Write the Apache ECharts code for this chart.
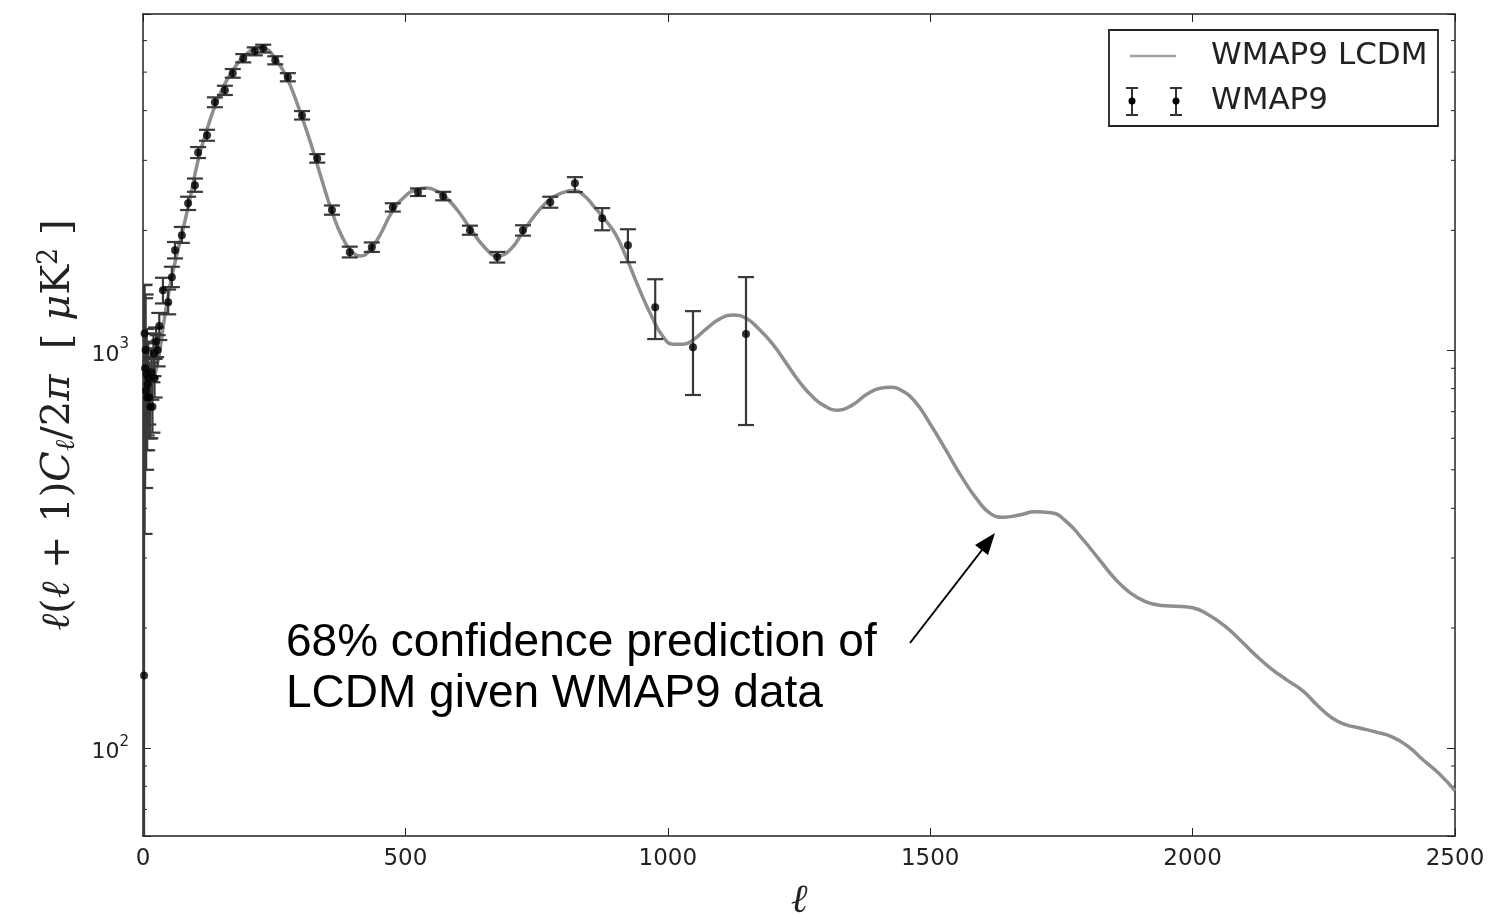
<!DOCTYPE html>
<html>
<head>
<meta charset="utf-8">
<script src="https://cdn.jsdelivr.net/npm/echarts@6/dist/echarts.min.js"></script>
<style>html,body{margin:0;padding:0;background:#fff;}#c{width:1492px;height:915px;}</style>
</head>
<body>
<div id="c"></div>
<script>
// ---- Theory curve: WMAP9 LCDM (multipole, D_l in muK^2) ----
const theoryL = [2,5,10,15,20,30,40,50,60,75,90,105,120,140,160,180,200,220,235,250,265,280,300,320,340,360,380,400,415,430,450,475,500,520,540,560,580,600,625,650,675,700,725,750,775,800,820,840,860,880,900,920,945,970,990,1010,1030,1050,1075,1100,1125,1150,1175,1200,1225,1250,1275,1300,1325,1350,1380,1405,1425,1445,1470,1500,1530,1560,1590,1615,1640,1670,1700,1730,1760,1790,1820,1850,1880,1910,1940,1970,2000,2030,2060,2090,2120,2150,2180,2210,2240,2265,2290,2320,2350,2380,2410,2440,2470,2500];
const theoryD = [1050,900,830,815,840,960,1180,1420,1640,1980,2420,3000,3520,4200,4780,5250,5600,5760,5720,5460,5100,4650,3950,3300,2700,2230,1920,1760,1725,1770,1930,2230,2440,2530,2555,2510,2400,2240,2010,1820,1725,1790,1990,2210,2390,2490,2520,2450,2290,2130,1960,1720,1430,1210,1085,1035,1035,1065,1135,1200,1225,1200,1125,1035,930,835,765,722,706,725,775,802,806,792,745,652,560,480,420,388,380,385,392,390,370,335,300,268,246,233,228,227,225,216,203,187,171,158,148,139,127,119,114.5,112,109.5,106.5,101,93,86,78];

// ---- WMAP9 data points ----
const dataL  = [2,3,4,5,6,7,8,9,10,12,14,16,18,20,22,25,28,31,38,48,55,61,74,86,99,105,122,137,156,171,191,213,229,252,276,303,332,360,394,436,476,524,572,623,675,724,776,823,875,924,976,1048,1149];
const dataD  = [152,1100,900,1000,790,870,760,820,850,760,720,880,720,980,850,1050,1000,1150,1415,1320,1525,1783,1945,2340,2597,3141,3470,4199,4500,4966,5420,5640,5730,5356,4854,3891,3033,2249,1763,1815,2286,2495,2438,2001,1713,2001,2355,2627,2145,1835,1282,1017,1097];
const dataLo = [50,345,450,560,500,610,560,600,650,600,600,750,620,860,760,960,910,1060,1310,1230,1440,1700,1860,2250,2500,3040,3360,4080,4380,4840,5290,5510,5600,5230,4740,3800,2960,2190,1710,1765,2230,2440,2380,1950,1660,1940,2280,2496,2001,1663,1066,771,648];
const dataHi = [1457,1460,1350,1380,1100,1130,960,1040,1050,930,850,1010,830,1100,950,1140,1090,1240,1520,1420,1620,1870,2040,2430,2700,3240,3580,4320,4620,5090,5550,5770,5860,5480,4970,3990,3110,2310,1820,1865,2340,2550,2500,2055,1765,2060,2430,2722,2275,2013,1507,1253,1526];

// ---- Axis ticks ----
const xTicks = [0,500,1000,1500,2000,2500];
const yMinorTicks = [70,80,90,200,300,400,500,600,700,800,900,2000,3000,4000,5000,6000];

const theory = theoryL.map((l,i)=>[l, theoryD[i]]);
const points = dataL.map((l,i)=>[l, dataD[i]]);
const bars = dataL.map((l,i)=>[l, dataLo[i], dataHi[i]]);

const chart = echarts.init(document.getElementById('c'), null, {renderer:'canvas'});
const axisCol = '#222';
const serif = '"DejaVu Serif", "Liberation Serif", serif';
const option = {
  animation: false,
  backgroundColor: '#fff',
  grid: {left:143, top:14, right:37, bottom:79, containLabel:false, outerBoundsMode:'none'},
  xAxis: [{
    type:'value', min:0, max:2500, interval:500, position:'bottom',
    axisLine:{show:true, onZero:false, lineStyle:{color:axisCol, width:1.5}},
    axisTick:{show:true, inside:true, length:8, lineStyle:{color:axisCol, width:1}},
    axisLabel:{fontFamily:'DejaVu Sans', fontSize:23, color:'#222', margin:12,
      formatter: v => xTicks.indexOf(v) >= 0 ? String(v) : ''},
    splitLine:{show:false},
    name:'ℓ', nameLocation:'middle', nameGap:46,
    nameTextStyle:{fontFamily:serif, fontStyle:'italic', fontSize:40, color:'#222'}
  },{
    type:'value', min:0, max:2500, interval:500, position:'top',
    axisLine:{show:true, onZero:false, lineStyle:{color:axisCol, width:1.5}},
    axisTick:{show:true, inside:true, length:8, lineStyle:{color:axisCol, width:1}},
    axisLabel:{show:false}, splitLine:{show:false}
  }],
  yAxis: [{
    type:'log', logBase:10, min:60, max:7000, position:'left',
    axisLine:{show:true, onZero:false, lineStyle:{color:axisCol, width:1.5}},
    axisTick:{show:true, inside:true, length:8, lineStyle:{color:axisCol, width:1}},
    axisLabel:{fontFamily:'DejaVu Sans', fontSize:22, color:'#222', margin:14,
      formatter: v => { const e = Math.log10(v); const r = Math.round(e);
        return Math.abs(e-r) < 1e-6 ? '{b|10}{s|' + r + '}' : ''; },
      rich:{
        b:{fontFamily:'DejaVu Sans', fontSize:22, color:'#222', padding:[10,0,0,0]},
        s:{fontFamily:'DejaVu Sans', fontSize:15, color:'#222', padding:[0,0,12,0]}
      }},
    splitLine:{show:false},
    name:'{i|ℓ}{r|(}{i|ℓ}{r| + 1)}{i|C}{sub|ℓ}{r|/2}{i|π}{r|  [ }{i|μ}{r|K}{sup|2}{r| ]}',
    nameLocation:'middle', nameGap:54,
    nameTextStyle:{
      fontFamily:serif, fontSize:40, color:'#222',
      rich:{
        i:{fontFamily:serif, fontStyle:'italic', fontSize:40, color:'#222'},
        r:{fontFamily:serif, fontSize:40, color:'#222'},
        sub:{fontFamily:serif, fontStyle:'italic', fontSize:27, color:'#222', padding:[16,0,0,0]},
        sup:{fontFamily:serif, fontSize:27, color:'#222', padding:[0,0,18,0]}
      }
    }
  },{
    type:'log', logBase:10, min:60, max:7000, position:'right',
    axisLine:{show:true, onZero:false, lineStyle:{color:axisCol, width:1.5}},
    axisTick:{show:true, inside:true, length:8, lineStyle:{color:axisCol, width:1}},
    axisLabel:{show:false}, splitLine:{show:false}
  }],
  series: [
    {
      type:'custom', name:'minorTicks', xAxisIndex:0, yAxisIndex:0, silent:true,
      data: yMinorTicks.map(v=>[0, v]),
      renderItem: (params, api) => {
        const cs = params.coordSys;
        const y = api.coord([0, api.value(1)])[1];
        return {type:'group', children:[
          {type:'line', shape:{x1:cs.x, y1:y, x2:cs.x+4, y2:y}, style:{stroke:axisCol, lineWidth:1}},
          {type:'line', shape:{x1:cs.x+cs.width-4, y1:y, x2:cs.x+cs.width, y2:y}, style:{stroke:axisCol, lineWidth:1}}
        ]};
      },
      z: 1
    },
    {
      type:'line', name:'WMAP9 LCDM', data: theory, smooth:0.5, showSymbol:false,
      lineStyle:{color:'#8e8e8e', width:3.5}, z:2
    },
    {
      type:'custom', name:'WMAP9 errors', data: bars, clip:true,
      encode:{x:0, y:[1,2]},
      renderItem: (params, api) => {
        const l = api.value(0);
        const lo = api.coord([l, api.value(1)]);
        const hi = api.coord([l, api.value(2)]);
        const w = 8;
        const st = {stroke:'#3a3a3a', lineWidth:2.2};
        return {type:'group', children:[
          {type:'line', shape:{x1:lo[0], y1:lo[1], x2:hi[0], y2:hi[1]}, style:st},
          {type:'line', shape:{x1:lo[0]-w, y1:lo[1], x2:lo[0]+w, y2:lo[1]}, style:st},
          {type:'line', shape:{x1:hi[0]-w, y1:hi[1], x2:hi[0]+w, y2:hi[1]}, style:st}
        ]};
      },
      z:3
    },
    {
      type:'scatter', name:'WMAP9', data: points, symbol:'circle', symbolSize:8,
      itemStyle:{color:'#000'}, z:4
    }
  ],
  graphic: [
    // legend box
    {type:'rect', shape:{x:1109, y:30, width:329, height:96}, style:{fill:'#fff', stroke:'#222', lineWidth:1.8}, z:10},
    {type:'line', shape:{x1:1130, y1:56, x2:1176, y2:56}, style:{stroke:'#a0a0a0', lineWidth:2.5}, z:11},
    {type:'text', x:1211, y:56, style:{text:'WMAP9 LCDM', font:'31px "DejaVu Sans"', fill:'#222', textVerticalAlign:'middle'}, z:11},
    {type:'line', shape:{x1:1132, y1:88, x2:1132, y2:115}, style:{stroke:'#333', lineWidth:2}, z:11},
    {type:'line', shape:{x1:1126, y1:88, x2:1138, y2:88}, style:{stroke:'#333', lineWidth:2}, z:11},
    {type:'line', shape:{x1:1126, y1:115, x2:1138, y2:115}, style:{stroke:'#333', lineWidth:2}, z:11},
    {type:'circle', shape:{cx:1132, cy:101, r:3.5}, style:{fill:'#000'}, z:12},
    {type:'line', shape:{x1:1176, y1:88, x2:1176, y2:115}, style:{stroke:'#333', lineWidth:2}, z:11},
    {type:'line', shape:{x1:1170, y1:88, x2:1182, y2:88}, style:{stroke:'#333', lineWidth:2}, z:11},
    {type:'line', shape:{x1:1170, y1:115, x2:1182, y2:115}, style:{stroke:'#333', lineWidth:2}, z:11},
    {type:'circle', shape:{cx:1176, cy:101, r:3.5}, style:{fill:'#000'}, z:12},
    {type:'text', x:1211, y:101, style:{text:'WMAP9', font:'31px "DejaVu Sans"', fill:'#222', textVerticalAlign:'middle'}, z:11},
    // annotation
    {type:'text', x:286, y:643, style:{text:'68% confidence prediction of', font:'46px "Liberation Sans", Arial', fill:'#000', textVerticalAlign:'middle'}, z:11},
    {type:'text', x:286, y:694, style:{text:'LCDM given WMAP9 data', font:'46px "Liberation Sans", Arial', fill:'#000', textVerticalAlign:'middle'}, z:11},
    {type:'line', shape:{x1:910, y1:643, x2:982, y2:550}, style:{stroke:'#000', lineWidth:2}, z:11},
    {type:'polygon', shape:{points:[[995,533],[988,555],[975,545]]}, style:{fill:'#000'}, z:11}
  ]
};
chart.setOption(option);
</script>
</body>
</html>
